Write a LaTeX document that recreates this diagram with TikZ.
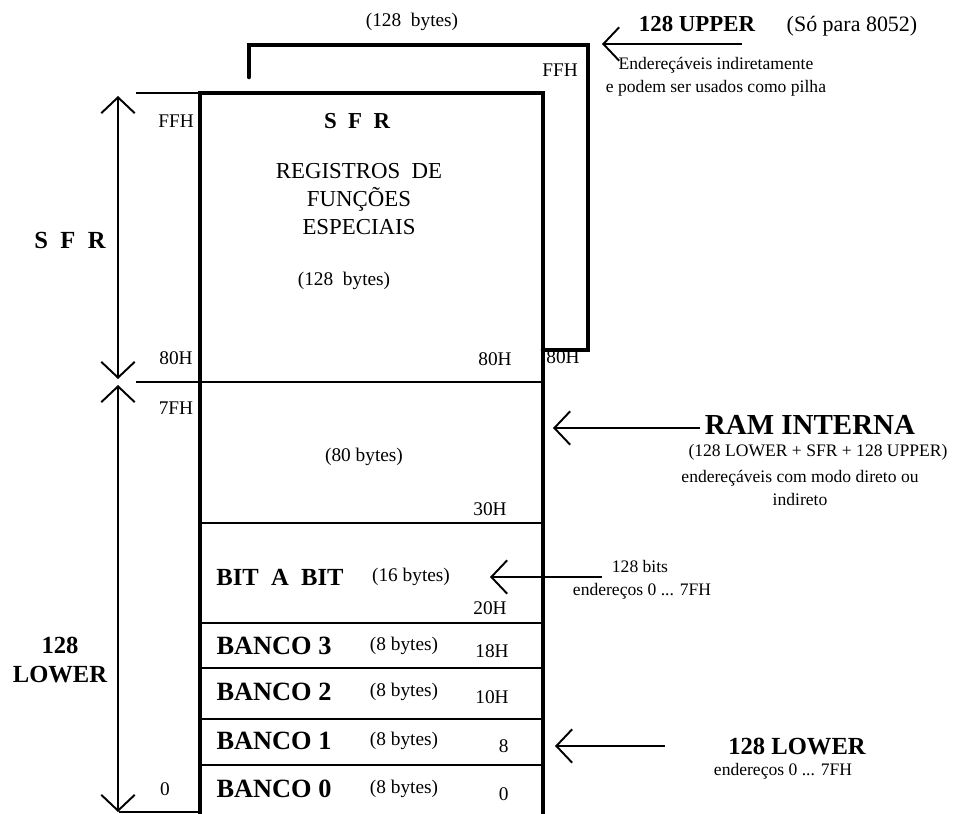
\documentclass[tikz,border=0pt]{standalone}
\usepackage{fontspec}
\setmainfont{Liberation Serif}
\usetikzlibrary{arrows.meta,positioning}

\begin{document}
\begin{tikzpicture}[x=0.02cm,y=-0.02cm,
  lbl/.style={inner sep=0pt,font=\fontsize{11}{13}\selectfont},
  sml/.style={inner sep=0pt,font=\fontsize{10}{13}\selectfont,align=center},
  hdr/.style={inner sep=0pt,font=\fontsize{14}{16}\selectfont\bfseries,align=center},
  bank/.style={inner sep=0pt,font=\fontsize{15}{17}\selectfont\bfseries},
  wall/.style={line width=2.6pt},
  sep/.style={line width=1.7pt},
  tick/.style={line width=1.1pt},
  arr/.style={-{Straight Barb[length=9pt,width=19pt]},line width=1.1pt},
  dbl/.style={{Straight Barb[length=9pt,width=19pt]}-{Straight Barb[length=9pt,width=19pt]},line width=1.1pt}
]
\useasboundingbox (0,0) rectangle (964,814);

% memory block
\draw[wall] (200,820) -- (200,93) -- (543,93) -- (543,820);
\draw[sep] (200,382) -- (543,382);
\draw[sep] (200,523) -- (543,523);
\draw[sep] (200,623) -- (543,623);
\draw[sep] (200,668) -- (543,668);
\draw[sep] (200,719) -- (543,719);
\draw[sep] (200,765) -- (543,765);
% 128 upper bracket
\draw[wall,line cap=round] (249,77) -- (249,45) -- (588,45) -- (588,350) -- (543,350);

% left scale
\draw[tick] (136,93) -- (200,93);
\draw[tick] (136,382) -- (200,382);
\draw[tick] (119,812) -- (200,812);
\coordinate (sfrtop) at (118,96);
\coordinate (sfrbot) at (118,379);
\coordinate (lowtop) at (118,385);
\coordinate (lowbot) at (118,812);
\draw[dbl] (sfrbot) -- (sfrtop);
\draw[dbl] (lowtop) -- (lowbot);

\node[hdr] (sfrleft) at (70,240) {S~~F~~R};
\node[hdr] (lowleft) at (60,660) {128\\LOWER};
\node[lbl] (ffhl) at (176,121) {FFH};
\node[lbl] (h80l) at (176,358) {80H};
\node[lbl] (h7fl) at (176,408) {7FH};
\node[lbl] (zerol) at (165,789) {0};

% SFR area
\node[lbl] (upbytes) at (412,22) {(128~~bytes)};
\node[lbl] (ffhu) at (560,70) {FFH};
\node[hdr,font=\fontsize{13}{15}\selectfont\bfseries] (sfrin) at (357,121) {S~~F~~R};
\node[inner sep=0pt,font=\fontsize{13}{16}\selectfont,align=center] (regs) at (359,199) {REGISTROS~~DE\\FUNÇÕES\\ESPECIAIS};
\node[lbl] (sfrbytes) at (344,281) {(128~~bytes)};
\node[lbl] (h80in) at (495,359) {80H};
\node[lbl] (h80u) at (563,357) {80H};

% 128 upper note
\node[inner sep=0pt,font=\fontsize{13}{15}\selectfont\bfseries] (upper) at (697,24) {128 UPPER};
\node[inner sep=0pt,font=\fontsize{12.5}{15}\selectfont] (only) at (852,26) {(Só para 8052)};
\node[sml] (indir) at (716,77) {Endereçáveis indiretamente\\e podem ser usados como pilha};
\coordinate (uptail) at (742,44);
\coordinate (uptip) at (602,44);
\draw[arr] (uptail) -- (uptip);

% lower area
\node[lbl] (b80) at (364,457) {(80 bytes)};
\node[lbl] (h30) at (490,509) {30H};
\node[hdr] (bits) at (280,577) {BIT~~A~~BIT};
\node[lbl] (b16) at (411,577) {(16 bytes)};
\node[lbl] (h20) at (490,608) {20H};
\foreach \y/\n/\a in {646/3/18H,692/2/10H,741/1/8,789/0/0}{
  \node[bank] (bank\n) at (274,\y) {BANCO \n};
  \node[lbl] (bb\n) at (404,\y) {(8 bytes)};
  \node[lbl,anchor=east] (addr\n) at (509,\y+5) {\a};
}

% RAM interna note
\node[inner sep=0pt,font=\fontsize{16.5}{19}\selectfont\bfseries] (ram) at (810,425) {RAM INTERNA};
\node[sml] (ramsum) at (818,452) {(128 LOWER + SFR + 128 UPPER)};
\node[sml] (ramdir) at (800,488) {endereçáveis com modo direto ou\\indireto};
\coordinate (ramtail) at (700,428);
\coordinate (ramtip) at (553,428);
\draw[arr] (ramtail) -- (ramtip);

% bit addressable note
\node[sml] (bitbits) at (640,566) {128 bits};
\node[sml] (bitaddr) at (642,591) {endereços 0 ... 7FH};
\coordinate (bittail) at (602,577);
\coordinate (bittip) at (490,577);
\draw[arr] (bittail) -- (bittip);

% 128 lower note
\node[hdr] (lowright) at (797,747) {128 LOWER};
\node[sml] (lowaddr) at (783,771) {endereços 0 ... 7FH};
\coordinate (lowtail) at (665,746);
\coordinate (lowtip) at (555,746);
\draw[arr] (lowtail) -- (lowtip);
\end{tikzpicture}
\end{document}
